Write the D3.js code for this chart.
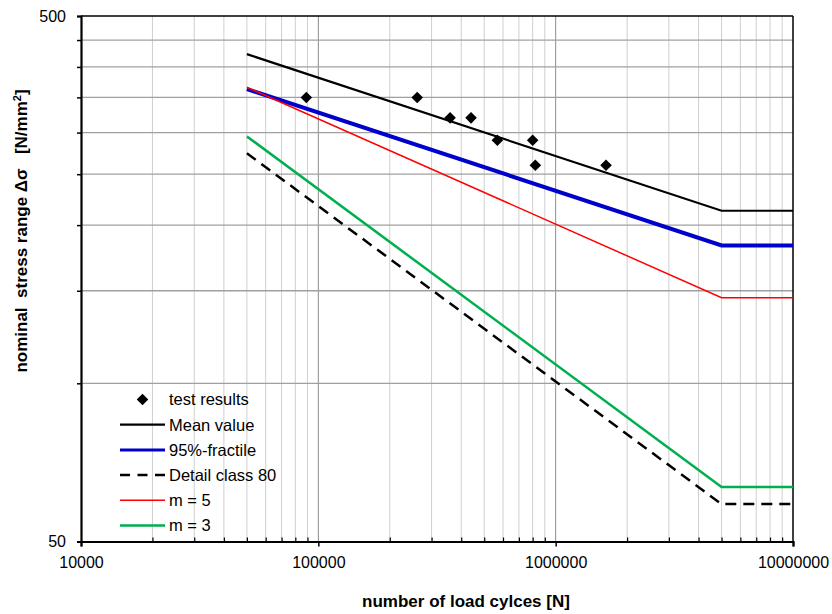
<!DOCTYPE html>
<html>
<head>
<meta charset="utf-8">
<script src="https://cdn.jsdelivr.net/npm/d3@7/dist/d3.min.js"></script>
<style>
  html, body { margin: 0; padding: 0; background: #fff; }
  svg { display: block; font-family: "Liberation Sans", Arial, sans-serif; }
</style>
</head>
<body>
<svg id="chart" width="832" height="614"></svg>
<script>
// S-N (Wöhler) diagram: test results and design curves, log-log axes
const testCycles = [89000, 261000, 359000, 440000, 568000, 800000, 821000, 1630000];
const testStress = [350, 350, 320, 320, 290, 290, 260, 260];

// curves: [N, Δσ] break points (start, knee at 5·10^6, end)
const curveCycles   = [50000, 5000000, 10000000];
const meanValue     = [423, 213, 213];
const fractile95    = [363, 183, 183];
const detailClass80 = [274, 58.9, 58.9];
const slopeM5       = [366, 145.5, 145.5];
const slopeM3       = [295, 63.5, 63.5];

const xMajorTicks = [10000, 100000, 1000000, 10000000];
const yTicks = [50, 100, 150, 200, 250, 300, 350, 400, 450, 500];
const yLabelled = [50, 500];

const legendLabels = ["test results", "Mean value", "95%-fractile", "Detail class 80", "m = 5", "m = 3"];

const svg = d3.select("#chart");
const L = 81, R = 793, T = 16, B = 541.5;

const x = d3.scaleLog().domain([1e4, 1e7]).range([L, R]);
const y = d3.scaleLog().domain([50, 500]).range([B, T]);

// minor decade ticks 2..9 × 10^k
const xMinor = [];
[1e4, 1e5, 1e6].forEach(d => { for (let k = 2; k <= 9; k++) xMinor.push(d * k); });

// gridlines
const grid = svg.append("g");
grid.selectAll("line.vminor").data(xMinor).join("line")
  .attr("x1", d => x(d)).attr("x2", d => x(d)).attr("y1", T).attr("y2", B)
  .attr("stroke", "#cfcfcf").attr("stroke-width", 1);
grid.selectAll("line.vmajor").data([1e5, 1e6]).join("line")
  .attr("x1", d => x(d)).attr("x2", d => x(d)).attr("y1", T).attr("y2", B)
  .attr("stroke", "#8c8c8c").attr("stroke-width", 1);
grid.selectAll("line.h").data(yTicks.filter(d => d > 50 && d < 500)).join("line")
  .attr("x1", L).attr("x2", R).attr("y1", d => y(d)).attr("y2", d => y(d))
  .attr("stroke", "#a0a0a0").attr("stroke-width", 1.3);

// plot frame (top and right)
svg.append("line").attr("x1", L).attr("x2", R).attr("y1", T).attr("y2", T)
  .attr("stroke", "#000").attr("stroke-width", 1.5);
svg.append("line").attr("x1", R).attr("x2", R).attr("y1", T).attr("y2", B)
  .attr("stroke", "#000").attr("stroke-width", 1.5);

// series lines
const line = d3.line().x(d => x(d[0])).y(d => y(d[1]));
const series = [
  { values: meanValue,     color: "#000000", width: 2.2, dash: null },
  { values: fractile95,    color: "#0000cc", width: 4,   dash: null },
  { values: detailClass80, color: "#000000", width: 2.5, dash: "11,7" },
  { values: slopeM5,       color: "#ff0000", width: 1.5, dash: null },
  { values: slopeM3,       color: "#00b050", width: 2.5, dash: null }
];
svg.append("clipPath").attr("id", "plotclip").append("rect")
  .attr("x", L).attr("y", T).attr("width", R - L).attr("height", B - T);
const plot = svg.append("g").attr("clip-path", "url(#plotclip)");
series.forEach(s => {
  plot.append("path")
    .datum(curveCycles.map((n, i) => [n, s.values[i]]))
    .attr("d", line)
    .attr("fill", "none")
    .attr("stroke", s.color)
    .attr("stroke-width", s.width)
    .attr("stroke-dasharray", s.dash)
    .attr("stroke-linejoin", "miter");
});

// test results (diamonds)
const diamond = d3.symbol().type(d3.symbolDiamond2).size(85);
svg.append("g").selectAll("path").data(testCycles.map((n, i) => [n, testStress[i]])).join("path")
  .attr("transform", d => `translate(${x(d[0])},${y(d[1])})`)
  .attr("d", diamond)
  .attr("fill", "#000");

// axes
const axisFont = g => g.selectAll("text").attr("font-size", 16).attr("fill", "#000")
  .attr("font-family", "'Liberation Sans', Arial, sans-serif");

const yAxis = svg.append("g").attr("transform", `translate(${L},0)`)
  .call(d3.axisLeft(y).tickValues(yTicks).tickSize(4).tickPadding(11)
    .tickFormat(d => yLabelled.includes(d) ? String(d) : ""));
yAxis.select(".domain").attr("stroke-width", 2.2);
yAxis.selectAll(".tick line").attr("stroke-width", 1.5);
yAxis.call(axisFont);

const xAxisMinor = svg.append("g").attr("transform", `translate(0,${B})`)
  .call(d3.axisBottom(x).tickValues(xMinor).tickSize(-4).tickFormat(""));
xAxisMinor.select(".domain").remove();
xAxisMinor.selectAll(".tick line").attr("stroke-width", 1.2);

const xAxis = svg.append("g").attr("transform", `translate(0,${B})`)
  .call(d3.axisBottom(x).tickValues(xMajorTicks).tickSize(5).tickPadding(10)
    .tickFormat(d3.format("d")));
xAxis.select(".domain").attr("stroke-width", 2.2);
xAxis.selectAll(".tick line").attr("stroke-width", 1.5);
xAxis.call(axisFont);

// axis titles
svg.append("text")
  .attr("x", 466).attr("y", 607)
  .attr("text-anchor", "middle")
  .attr("font-size", 17).attr("font-weight", "bold")
  .text("number of load cylces [N]");

const yTitle = svg.append("text")
  .attr("transform", "translate(27,231) rotate(-90)")
  .attr("text-anchor", "middle")
  .attr("font-size", 17).attr("font-weight", "bold")
  .style("white-space", "pre");
yTitle.append("tspan").text("nominal  stress range Δσ   [N/mm");
yTitle.append("tspan").attr("font-size", 11).attr("dy", -6).text("2");
yTitle.append("tspan").attr("dy", 6).text("]");

// legend
const legend = svg.append("g");
const rowY = d => 399.5 + d * 25.2;
const lx0 = 120, lx1 = 165, tx = 169;
legendLabels.forEach((lab, i) => {
  if (i === 0) {
    legend.append("path")
      .attr("transform", `translate(${(lx0 + lx1) / 2},${rowY(i)})`)
      .attr("d", diamond).attr("fill", "#000");
  } else {
    const s = series[i - 1];
    legend.append("line")
      .attr("x1", lx0).attr("x2", lx1).attr("y1", rowY(i)).attr("y2", rowY(i))
      .attr("stroke", s.color).attr("stroke-width", Math.min(s.width, 3))
      .attr("stroke-dasharray", s.dash ? "10,7.5" : null);
  }
  legend.append("text")
    .attr("x", tx).attr("y", rowY(i)).attr("dy", "0.36em")
    .attr("font-size", 16.5)
    .text(lab);
});
</script>
</body>
</html>
